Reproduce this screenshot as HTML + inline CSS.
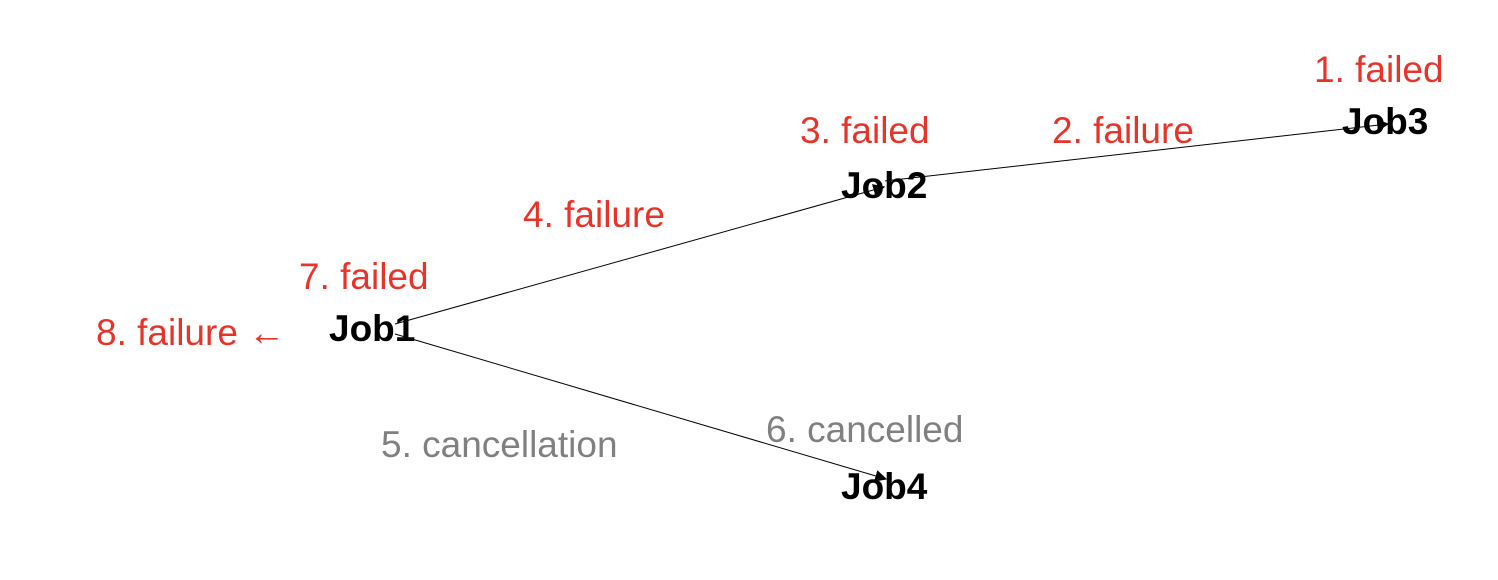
<!DOCTYPE html>
<html><head><meta charset="utf-8"><style>
html,body{margin:0;padding:0;background:#fff;}
svg{display:block;}
text{font-family:"Liberation Sans",Arial,sans-serif;font-size:37px;}
.r{fill:#e5352b}.g{fill:#808080}.b{fill:#000;font-weight:bold}
</style></head><body>
<svg width="1498" height="580" viewBox="0 0 1498 580" xmlns="http://www.w3.org/2000/svg">
<defs><marker id="a" viewBox="0 0 10 10" refX="9" refY="5" markerWidth="12" markerHeight="12" markerUnits="userSpaceOnUse" orient="auto"><path d="M0,0L10,5L0,10z" fill="#000"/></marker></defs>
<text class="r" x="1314" y="82">1. failed</text>
<text class="b" x="1342" y="134">Job3</text>
<text class="r" x="800" y="143">3. failed</text>
<text class="r" x="1052" y="143">2. failure</text>
<text class="b" x="841" y="198">Job2</text>
<text class="r" x="523" y="227">4. failure</text>
<text class="r" x="299" y="289">7. failed</text>
<text class="r" x="96" y="345">8. failure ←</text>
<text class="b" x="329" y="341">Job1</text>
<text class="g" x="381" y="457">5. cancellation</text>
<text class="g" x="766" y="442">6. cancelled</text>
<text class="b" x="841" y="499">Job4</text>
<line x1="885" y1="181" x2="1388" y2="124" stroke="#000" stroke-width="1" marker-end="url(#a)"/>
<line x1="395" y1="324" x2="884" y2="187" stroke="#000" stroke-width="1" marker-end="url(#a)"/>
<line x1="395" y1="334" x2="886" y2="479" stroke="#000" stroke-width="1" marker-end="url(#a)"/>
</svg>
</body></html>
